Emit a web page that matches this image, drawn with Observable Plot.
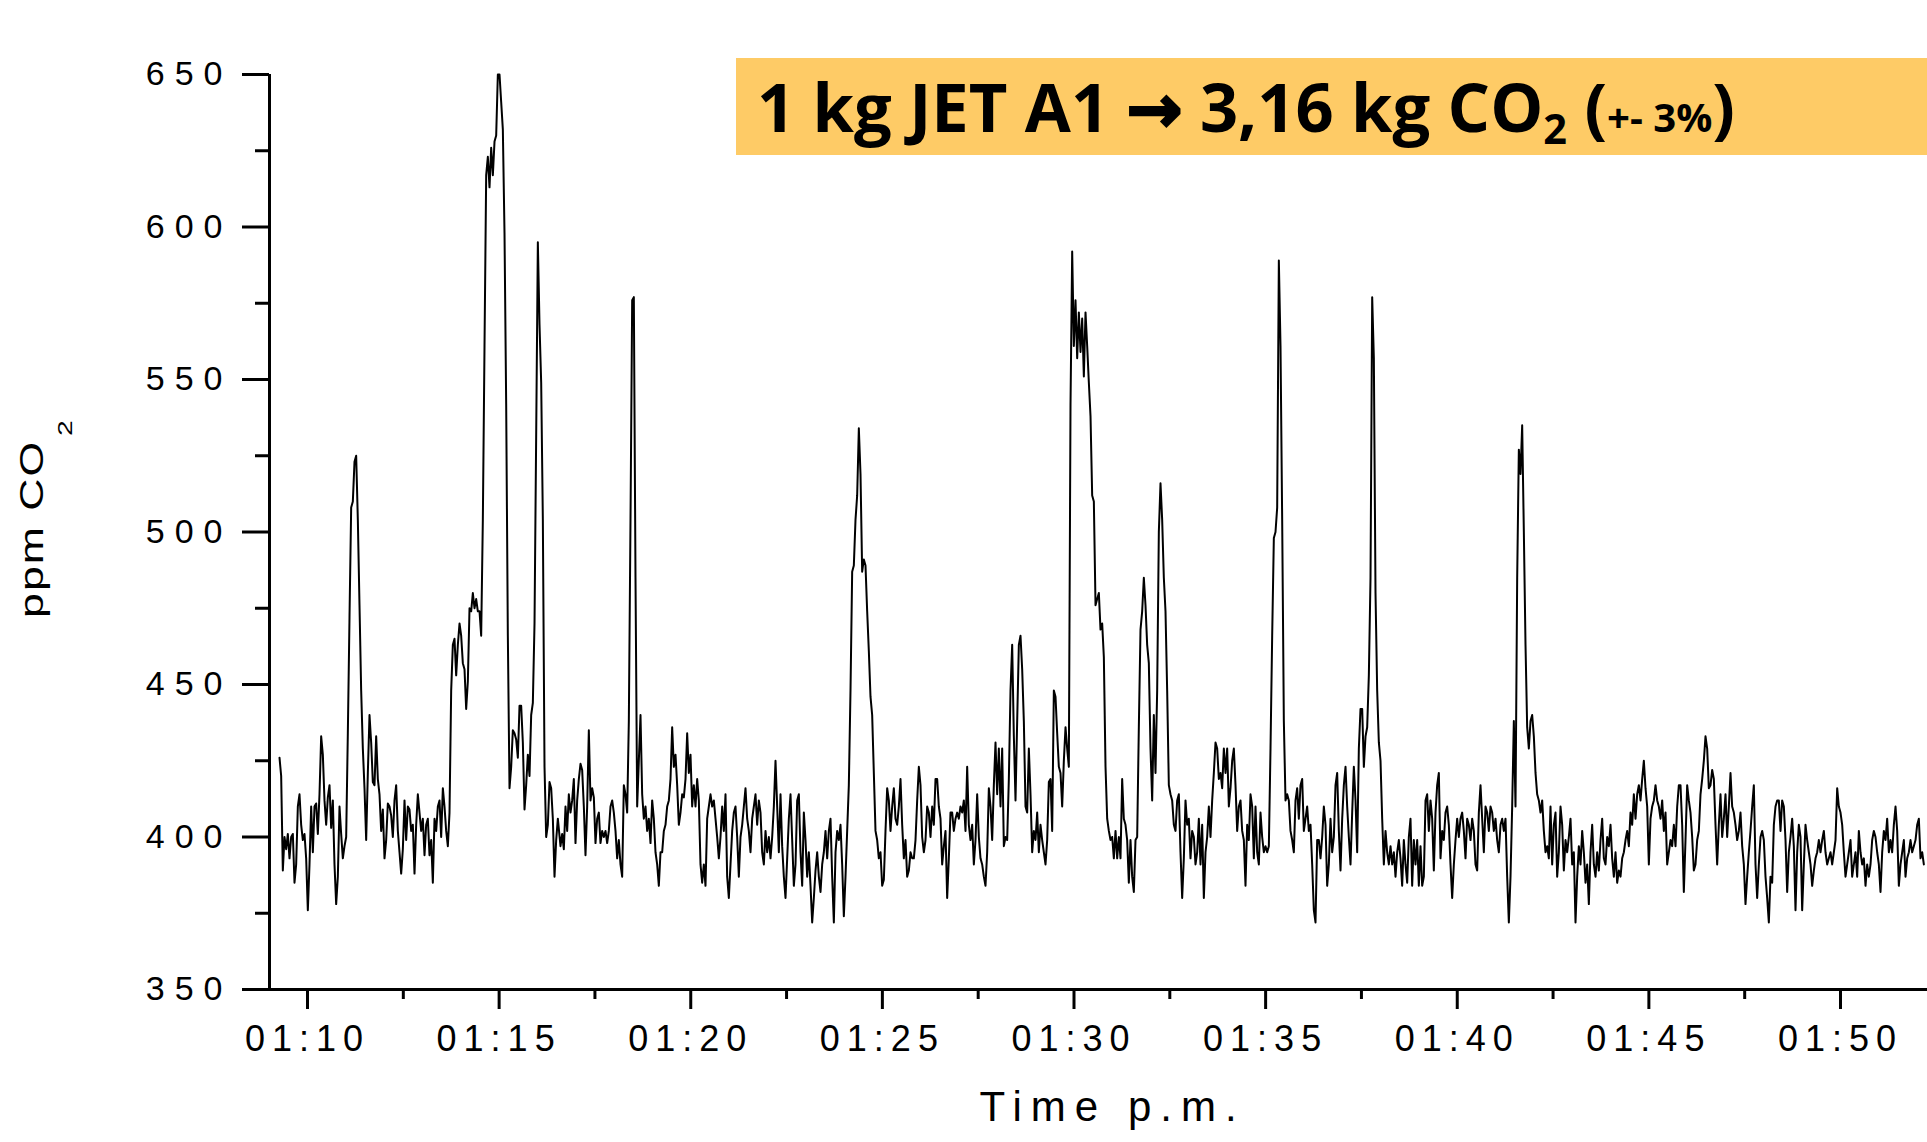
<!DOCTYPE html>
<html>
<head>
<meta charset="utf-8">
<script src="https://cdn.jsdelivr.net/npm/d3@7"></script>
<script src="https://cdn.jsdelivr.net/npm/@observablehq/plot@0.6"></script>
<style>
  html, body { margin: 0; padding: 0; background: #fff; }
  #wrap { position: relative; width: 1927px; height: 1142px; overflow: hidden; background: #fff; }
  #wrap svg { position: absolute; left: 0; top: 0; }
  #banner { position: absolute; left: 736px; top: 58px; width: 1191px; height: 97px; background: #FECB66; }
  #bannerText { position: absolute; left: 21px; top: 0; height: 97px; line-height: 97px; font-family: "Open Sans", "DejaVu Sans", sans-serif; font-weight: 700; font-size: 66px; white-space: nowrap; color: #000; transform-origin: 0 50%; }
  #bannerText sub { font-size: 0.62em; position: relative; top: 0.3em; vertical-align: baseline; line-height: 0; }
  #bannerText .small { font-size: 0.6em; }
  #bannerText .arrow { -webkit-text-stroke: 2.5px #000; }
  g[aria-label="x-axis tick label"] text { font-family: "Liberation Sans", Arial, sans-serif; font-size: 36px; letter-spacing: 7px; }
  g[aria-label="y-axis tick label"] text { font-family: "Liberation Sans", Arial, sans-serif; font-size: 34px; letter-spacing: 10px; }
</style>
</head>
<body>
<div id="wrap">
  <div id="banner"><span id="bannerText">1 kg JET A1 <span class="arrow">→</span> 3,16 kg CO<sub>2</sub> (<span class="small">+- 3%</span>)</span></div>
</div>
<script>
// ---- scales / ticks (minutes after 01:00) ----
const xDomain = [9.0085, 52.27];
const yDomain = [350, 650];
const xTicks = [10, 15, 20, 25, 30, 35, 40, 45, 50];
const xTickLabels = ["01:10", "01:15", "01:20", "01:25", "01:30", "01:35", "01:40", "01:45", "01:50"];
const xMinorTicks = [12.5, 17.5, 22.5, 27.5, 32.5, 37.5, 42.5, 47.5];
const yTicks = [350, 400, 450, 500, 550, 600, 650];
const yMinorTicks = [375, 425, 475, 525, 575, 625];
const xTitle = "Time p.m.";
const yTitleMain = "ppm CO";
const yTitleSub = "2";

// ---- CO2 readings (ppm), regular sampling, in six consecutive stretches ----
const segmentStart = [9.2694, 16.6014, 23.9074, 31.2133, 38.5193, 45.8252]; // minutes after 01:00
const sampleStep = 0.04349; // minutes between readings

const seg1 = [
  426,420,389,400,396,401,393,400,401,385,
  391,410,414,404,399,401,393,376,391,410,
  395,410,411,401,414,433,427,412,404,413,
  417,403,412,391,378,387,410,401,393,397,
  400,434,472,508,510,523,525,504,476,448,
  429,416,399,421,440,431,418,417,433,419,
  414,402,409,393,399,411,410,407,400,412,
  417,402,395,388,396,412,399,410,409,402,
  404,388,404,414,408,402,406,394,404,406,
  394,399,385,406,402,410,412,400,416,410,
  402,397,408,448,463,465,453,463,470,466,
  457,455,442,451,475,474,480,475,478,474,
  474,466,504,561,617,623,613,626,617,628,
  630,650,650,641,632,598,542,466,416,423,
  435,434,432,426,443,443,431,409,417,427,
  420,440,444,470,532,595,568,549,504,423,
  400,404,418,416,406,387,399,406
];
const seg2 = [
  397,401,396,410,402,414,408,412,419,398,
  412,419,424,422,410,394,410,435,412,416,
  413,398,406,408,398,402,400,402,398,402,
  410,412,408,402,393,399,391,387,417,414,
  408,438,504,576,577,485,410,425,440,414,
  406,410,402,406,398,412,406,395,391,384,
  395,395,402,404,410,412,419,436,423,427,
  417,404,408,414,413,419,434,421,427,410,
  417,410,419,412,391,385,391,384,406,410,
  414,410,412,406,400,393,400,410,402,414,
  387,380,391,402,408,410,400,387,400,404,
  410,416,406,402,395,406,410,414,404,412,
  408,395,391,402,395,400,393,400,410,425,
  410,395,414,397,387,380,393,406,414,399,
  384,391,412,414,395,384,408,399,387,395,
  384,372,380,389,395,387,382,391,395,402,
  393,402,406,387,372,395,402,399
];
const seg3 = [
  404,391,374,387,402,417,448,487,489,504,
  512,534,519,487,491,489,474,461,446,440,
  421,402,399,393,395,384,386,402,416,412,
  402,410,416,406,404,410,419,404,393,399,
  387,389,395,393,393,399,412,423,417,400,
  395,399,410,408,400,410,404,419,419,410,
  406,391,397,402,380,393,408,408,402,406,
  408,406,410,408,412,402,423,404,399,404,
  391,399,414,400,393,391,387,384,395,416,
  410,399,417,431,414,429,410,429,397,400,
  399,419,448,463,433,412,438,463,466,455,
  438,410,408,429,414,395,402,399,408,395,
  404,399,395,391,399,418,419,402,448,446,
  434,423,421,410,425,436,429,423,542,592,
  561,576,557,572,559,570,551,572,561,549,
  538,512,510,476,478,480,468,470,459,423,
  406,402,399,400,393,402,393,400
];
const seg4 = [
  393,419,406,404,399,385,399,387,382,399,
  400,436,468,474,485,476,463,457,429,412,
  440,421,448,500,516,504,485,474,448,417,
  414,412,404,402,412,414,395,380,393,412,
  404,406,393,402,400,391,395,406,391,404,
  380,395,400,410,400,412,421,431,429,419,
  421,416,429,421,429,410,416,425,429,417,
  402,410,412,402,399,384,404,399,414,410,
  393,410,395,391,408,400,395,397,395,397,
  429,466,498,500,508,589,561,504,438,412,
  414,412,402,399,395,412,416,406,417,419,
  402,406,410,402,404,391,376,372,399,399,
  393,400,410,404,384,391,406,395,400,417,
  421,402,389,406,417,423,410,400,391,408,
  423,412,395,429,442,442,423,433,436,453,
  485,577,557,480,448,431,425,406,391,402,
  395,391,397,391,395,387,395,399
];
const seg5 = [
  393,384,399,391,385,400,406,384,399,391,
  399,384,397,384,387,412,414,402,412,406,
  389,408,417,421,393,402,399,408,410,404,
  391,380,391,399,406,400,406,408,402,393,
  406,404,399,406,402,391,389,408,417,406,
  395,410,408,402,410,408,402,406,399,395,
  404,406,402,406,387,372,387,410,438,410,
  485,527,519,535,500,463,436,429,438,440,
  433,421,414,412,408,412,402,395,397,393,
  410,391,404,408,387,395,410,404,389,399,
  395,400,406,391,395,372,387,397,391,402,
  395,385,391,378,395,404,391,387,395,389,
  399,406,393,391,400,397,404,393,387,395,
  385,389,387,393,395,399,402,397,408,404,
  414,406,414,417,412,419,425,416,410,391,
  406,410,412,417,412,410,406,412,402,408,
  391,395,399,397,404,397,410,417
];
const seg6 = [
  417,404,382,399,417,412,408,400,389,391,
  399,402,414,419,425,433,429,416,417,422,
  419,404,391,404,414,400,406,414,400,410,
  421,410,408,404,399,402,408,397,391,378,
  387,395,402,410,417,391,380,391,400,402,
  399,387,380,372,387,385,404,410,412,412,
  402,412,410,399,382,395,400,406,397,376,
  395,404,400,376,391,404,399,395,391,384,
  389,393,395,399,395,399,402,395,391,393,
  395,391,395,399,416,410,408,404,395,387,
  391,395,399,387,391,395,387,402,395,391,
  393,384,391,387,391,399,402,400,395,391,
  382,395,402,399,406,395,399,395,404,410,
  402,384,391,395,399,387,393,395,399,395,
  397,399,404,406,393,395,391
];

const segments = [seg1, seg2, seg3, seg4, seg5, seg6];
const data = segments.flatMap((seg, k) => seg.map((v, i) => ({t: segmentStart[k] + i * sampleStep, v})));

const chart = Plot.plot({
  width: 1927,
  height: 1142,
  marginLeft: 269,
  marginRight: 0,
  marginTop: 74,
  marginBottom: 153,
  x: {domain: xDomain, axis: null, label: null},
  y: {domain: yDomain, axis: null, label: null},
  style: {background: "white", overflow: "visible", fontFamily: "'Liberation Sans', Arial, sans-serif", color: "black"},
  marks: [
    Plot.axisY(yMinorTicks, {anchor: "left", tickSize: 14, strokeWidth: 3, text: null, label: null}),
    Plot.axisY(yTicks, {anchor: "left", tickSize: 27, tickPadding: 10, strokeWidth: 3, label: null, fontSize: 34}),
    Plot.axisX(xMinorTicks, {anchor: "bottom", tickSize: 10, strokeWidth: 3, text: null, label: null}),
    Plot.axisX(xTicks, {anchor: "bottom", tickSize: 20, tickPadding: 16, strokeWidth: 3, label: null, fontSize: 36,
      tickFormat: d => xTickLabels[xTicks.indexOf(d)]}),
    Plot.ruleY([yDomain[0]], {stroke: "black", strokeWidth: 3}),
    Plot.ruleX([xDomain[0]], {y1: yDomain[0], y2: yDomain[1], stroke: "black", strokeWidth: 3}),
    Plot.line(data, {x: "t", y: "v", stroke: "black", strokeWidth: 2}),
    Plot.text([xTitle], {frameAnchor: "bottom", textAnchor: "middle", lineAnchor: "middle", dx: 14, dy: 118, fontSize: 42, fill: "black"}),
    Plot.text([yTitleMain], {frameAnchor: "left", textAnchor: "middle", lineAnchor: "middle", rotate: -90, dx: -237, dy: -14, fontSize: 33, fill: "black"})
  ]
});

document.getElementById("wrap").prepend(chart);

// title lettering
chart.querySelectorAll("text").forEach(t => {
  if (t.textContent === xTitle) {
    t.style.letterSpacing = "9px";
    t.style.fontSize = "42px";
  } else if (t.textContent === yTitleMain) {
    t.style.letterSpacing = "1.5px";
    t.style.fontSize = "33px";
    const sub = document.createElementNS("http://www.w3.org/2000/svg", "tspan");
    sub.textContent = yTitleSub;
    sub.setAttribute("font-size", "21");
    sub.setAttribute("dx", "3");
    sub.setAttribute("dy", "29");
    t.appendChild(sub);
    const tr = t.getAttribute("transform") || "";
    t.setAttribute("transform", tr + " scale(1.35,1)");
  }
});

// fit banner text width
const bt = document.getElementById("bannerText");
const w = bt.getBoundingClientRect().width;
bt.style.transform = `scaleX(${978 / w})`;
</script>
</body>
</html>
